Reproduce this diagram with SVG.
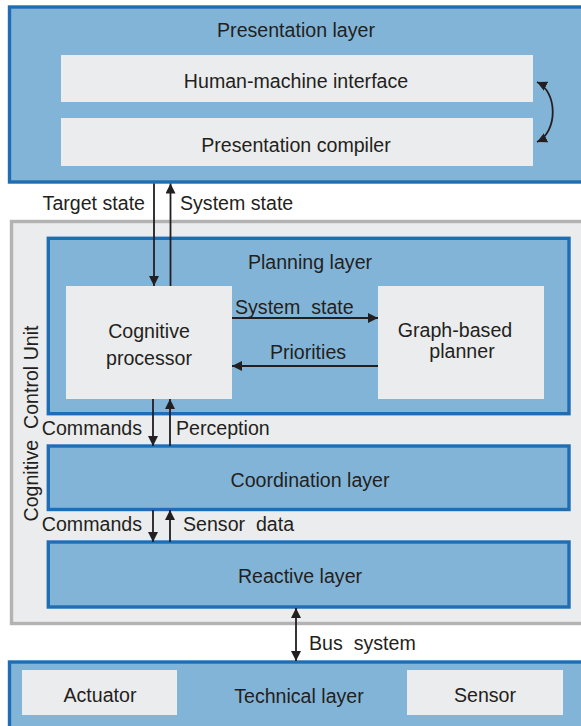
<svg xmlns="http://www.w3.org/2000/svg" width="581" height="726" viewBox="0 0 581 726">
<defs>
<marker id="ah" viewBox="0 0 10 10" refX="10" refY="5" markerWidth="10" markerHeight="10" markerUnits="userSpaceOnUse" orient="auto-start-reverse">
<path d="M0,0 L10,5 L0,10 z" fill="#231f20"/>
</marker>
<style>
.layer{fill:#82b4d8;stroke:#1f6db3;stroke-width:3.4}
.box{fill:#ebeced;stroke:none}
.ccu{fill:#ebeced;stroke:#b3b3b3;stroke-width:3.4}
.t{font-family:"Liberation Sans",Arial,sans-serif;font-size:19.6px;fill:#231f20;dominant-baseline:central}
.c{text-anchor:middle}
.e{text-anchor:end}
.ln{stroke:#231f20;stroke-width:1.8;fill:none}
</style>
</defs>
<rect width="581" height="726" fill="#ffffff"/>

<g id="presentation-layer">
<rect class="layer" x="9.5" y="7" width="580" height="175"/>
<text class="t c" x="296" y="30">Presentation layer</text>
</g>
<g id="hmi">
<rect class="box" x="61" y="55" width="472" height="47"/>
<text class="t c" x="296" y="81">Human-machine interface</text>
</g>
<g id="presentation-compiler">
<rect class="box" x="61" y="118" width="472" height="48"/>
<text class="t c" x="296" y="145">Presentation compiler</text>
</g>

<g id="ccu">
<rect class="ccu" x="11.5" y="221.5" width="580" height="402"/>
<text class="t c" transform="translate(31,423.5) rotate(-90)" style="white-space:pre">Cognitive  Control Unit</text>
</g>

<g id="planning-layer">
<rect class="layer" x="48.3" y="238.3" width="520.7" height="175.4"/>
<text class="t c" x="310" y="262">Planning layer</text>
</g>
<g id="cognitive-processor">
<rect class="box" x="66" y="286" width="166" height="113"/>
<text class="t c" x="149" y="331">Cognitive</text>
<text class="t c" x="149" y="358">processor</text>
</g>
<g id="graph-planner">
<rect class="box" x="378" y="286" width="166" height="113"/>
<text class="t c" x="455" y="330">Graph-based</text>
<text class="t c" x="462" y="351">planner</text>
</g>

<g id="coordination-layer">
<rect class="layer" x="48.3" y="446" width="520.7" height="63.5"/>
<text class="t c" x="310" y="480">Coordination layer</text>
</g>
<g id="reactive-layer">
<rect class="layer" x="48.3" y="542" width="520.7" height="65"/>
<text class="t c" x="300" y="576">Reactive layer</text>
</g>

<g id="technical-layer">
<rect class="layer" x="9.5" y="662" width="580" height="80"/>
<text class="t c" x="299" y="696">Technical layer</text>
</g>
<g id="actuator">
<rect class="box" x="22" y="670" width="155" height="45"/>
<text class="t c" x="100" y="695">Actuator</text>
</g>
<g id="sensor">
<rect class="box" x="407" y="670" width="156" height="45"/>
<text class="t c" x="485" y="695">Sensor</text>
</g>

<g id="connectors">
<path class="ln" d="M537,82 C558,92 558,132 537,142" marker-start="url(#ah)" marker-end="url(#ah)"/>
<line class="ln" x1="154" y1="183.5" x2="154" y2="286" marker-end="url(#ah)"/>
<line class="ln" x1="170.5" y1="286" x2="170.5" y2="183.5" marker-end="url(#ah)"/>
<text class="t e" x="145" y="203">Target state</text>
<text class="t" x="180" y="203">System state</text>

<line class="ln" x1="232" y1="318" x2="378" y2="318" marker-end="url(#ah)"/>
<text class="t" x="235" y="307" style="white-space:pre">System  state</text>
<line class="ln" x1="378" y1="366" x2="232" y2="366" marker-end="url(#ah)"/>
<text class="t c" x="308" y="352">Priorities</text>

<line class="ln" x1="153" y1="399" x2="153" y2="446" marker-end="url(#ah)"/>
<line class="ln" x1="170" y1="446" x2="170" y2="399" marker-end="url(#ah)"/>
<text class="t e" x="142" y="428">Commands</text>
<text class="t" x="176" y="428">Perception</text>

<line class="ln" x1="153" y1="510" x2="153" y2="542" marker-end="url(#ah)"/>
<line class="ln" x1="170" y1="542" x2="170" y2="510" marker-end="url(#ah)"/>
<text class="t e" x="142" y="524">Commands</text>
<text class="t" x="183" y="524" style="white-space:pre">Sensor  data</text>

<line class="ln" x1="296" y1="608" x2="296" y2="661" marker-start="url(#ah)" marker-end="url(#ah)"/>
<text class="t" x="309" y="643" style="white-space:pre">Bus  system</text>
</g>
</svg>
